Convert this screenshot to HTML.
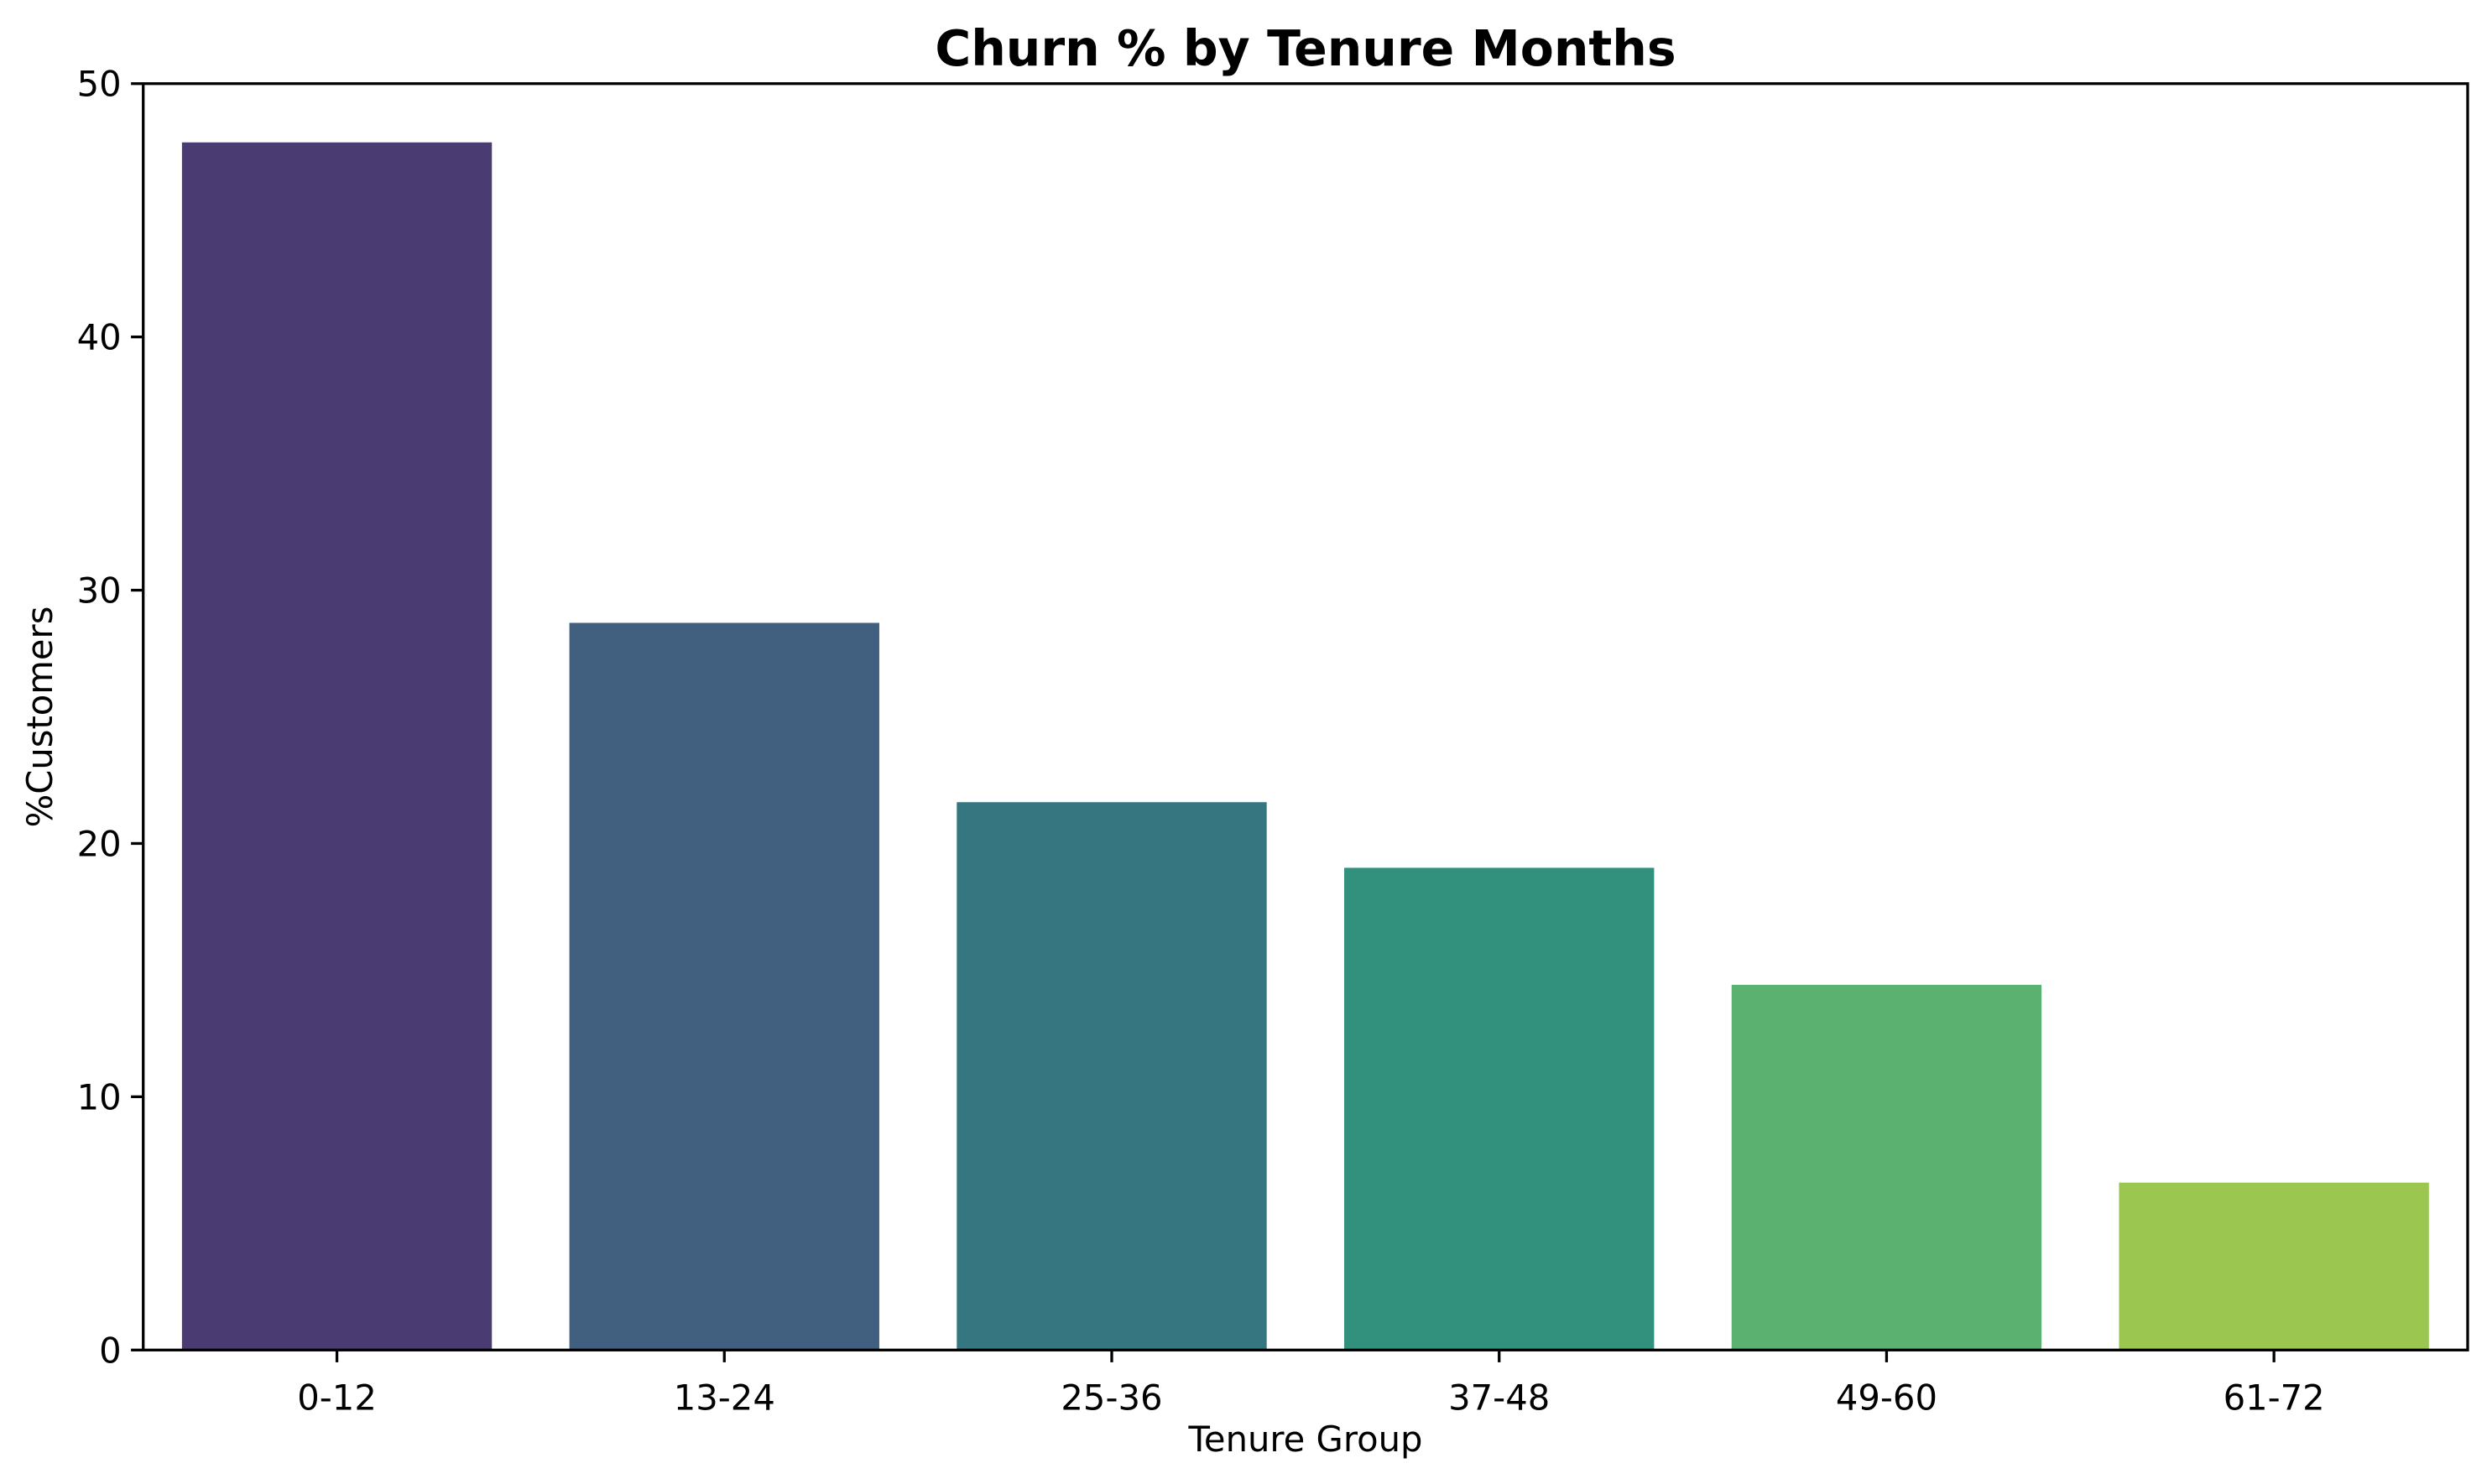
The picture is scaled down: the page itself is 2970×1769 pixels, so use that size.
<!DOCTYPE html>
<html><head><meta charset="utf-8"><style>
html,body{margin:0;padding:0;background:#fff}
svg{display:block}
text{font-family:"DejaVu Sans","Liberation Sans",sans-serif;fill:#000}
</style></head><body>
<svg id="chart" width="2970" height="1769" viewBox="0 0 2970 1769" xmlns="http://www.w3.org/2000/svg">
<text x="1556" y="78" font-size="58.4" font-weight="bold" text-anchor="middle">Churn % by Tenure Months</text>
<g id="bars"></g>
<g id="yticks"></g>
<g id="xticks"></g>
<rect x="170.7" y="99.7" width="2770.3" height="1509.6" fill="none" stroke="#000" stroke-width="3.3"/>
<text x="1556" y="1730" font-size="41.7" text-anchor="middle">Tenure Group</text>
<text transform="translate(62,854.5) rotate(-90)" font-size="41.7" text-anchor="middle">%Customers</text>
</svg>
<script>
const categories = ["0-12","13-24","25-36","37-48","49-60","61-72"];
const churnValues = [47.68, 28.71, 21.63, 19.04, 14.42, 6.61];
const barColors = ["#4a3b73","#41607f","#357680","#32917c","#5ab170","#9bc64f"];
const yTickValues = [0,10,20,30,40,50];

const L=170.7, R=2941, T=99.7, B=1609.3, yMax=50;
const NS="http://www.w3.org/2000/svg";
function yScale(v){return B-(v/yMax)*(B-T);}
const band=(R-L)/categories.length;
function xCenter(i){return L+band*(i+0.5);}
const barW=band*0.8;

const gb=document.getElementById('bars');
categories.forEach((c,i)=>{
  const r=document.createElementNS(NS,'rect');
  r.setAttribute('x',xCenter(i)-barW/2);
  r.setAttribute('y',yScale(churnValues[i]));
  r.setAttribute('width',barW);
  r.setAttribute('height',B-yScale(churnValues[i]));
  r.setAttribute('fill',barColors[i]);
  
  
  gb.appendChild(r);
});
const gy=document.getElementById('yticks');
yTickValues.forEach(v=>{
  const y=yScale(v);
  const l=document.createElementNS(NS,'line');
  l.setAttribute('x1',L-14.6);l.setAttribute('x2',L);l.setAttribute('y1',y);l.setAttribute('y2',y);
  l.setAttribute('stroke','#000');l.setAttribute('stroke-width','3.3');
  
  
  gy.appendChild(l);
  const t=document.createElementNS(NS,'text');
  t.setAttribute('x',L-26);t.setAttribute('y',y+15);t.setAttribute('font-size','41.7');t.setAttribute('text-anchor','end');
  t.textContent=v;
  
  
  gy.appendChild(t);
});
const gx=document.getElementById('xticks');
categories.forEach((c,i)=>{
  const x=xCenter(i);
  const l=document.createElementNS(NS,'line');
  l.setAttribute('x1',x);l.setAttribute('x2',x);l.setAttribute('y1',B);l.setAttribute('y2',B+14.6);
  l.setAttribute('stroke','#000');l.setAttribute('stroke-width','3.3');
  
  
  gx.appendChild(l);
  const t=document.createElementNS(NS,'text');
  t.setAttribute('x',x);t.setAttribute('y',B+71);t.setAttribute('font-size','41.7');t.setAttribute('text-anchor','middle');
  t.textContent=c;
  
  
  gx.appendChild(t);
});
</script>
</body></html>
